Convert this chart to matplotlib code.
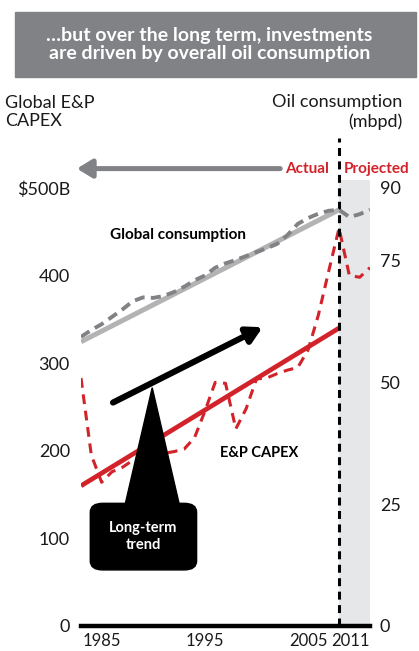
import matplotlib
matplotlib.use("Agg")
import matplotlib.pyplot as plt
from matplotlib.patches import Rectangle, FancyBboxPatch, Polygon

plt.rcParams['font.family'] = ['Lato', 'DejaVu Sans']

# ---- data ----
years = list(range(1983, 2012))
oil_consumption = [59.4, 60.8, 62.0, 63.5, 65.0, 66.7, 67.5, 67.4, 67.8, 68.6,
                   69.7, 71.0, 72.0, 73.6, 74.5, 75.2, 76.0, 76.8, 77.6, 78.5,
                   80.3, 82.6, 83.8, 84.7, 85.3, 85.5, 84.0, 84.6, 85.5]
capex = [283, 195, 164, 176, 181, 189, 193, 196, 197, 199,
         202, 215, 245, 278, 277, 225, 248, 282, 283, 288,
         292, 295, 315, 355, 405, 454, 400, 398, 409]
trend_years = [1983, 2008]
oil_trend = [58.4, 85.5]
capex_trend = [160, 340]
last_actual = 2008

left_ticks = [0, 100, 200, 300, 400, 500]
left_labels = ['0', '100', '200', '300', '400', '$500B']
right_ticks = [0, 25, 50, 75, 90]
x_ticks = [1985, 1995, 2005, 2011]

RED = '#d2232a'
GRAY_DASH = '#808285'
GRAY_SOLID = '#b3b3b3'
SHADE = '#e6e7e8'

fig = plt.figure(figsize=(4.19, 6.51), dpi=100)
ax = fig.add_axes([81 / 419, 25 / 651, 289 / 419, 446 / 651])
ax2 = ax.twinx()

ymax = 509
ax.set_xlim(1983, 2011)
ax.set_ylim(0, ymax)
ax2.set_ylim(0, ymax * 90 / 500)

ax.axvspan(last_actual, 2011, color=SHADE, zorder=0, lw=0)

# CAPEX (left axis)
ax.plot(trend_years, capex_trend, color=RED, lw=3.4, solid_capstyle='butt', zorder=3)
ax.plot(years, capex, color=RED, lw=2.2, dashes=(3.2, 2.2), zorder=4)

# oil consumption (right axis)
ax2.plot(trend_years, oil_trend, color=GRAY_SOLID, lw=3.6, solid_capstyle='butt', zorder=2)
ax2.plot(years, oil_consumption, color=GRAY_DASH, lw=2.8, dashes=(2.6, 1.6), zorder=3)

# actual / projected split
ax.plot([last_actual, last_actual], [0, 557], color='black', lw=2.2,
        dashes=(2.6, 1.8), clip_on=False, zorder=5)
ax.text(last_actual - 0.95, 522, 'Actual', color=RED, fontsize=11, fontweight='bold',
        ha='right', va='center')
ax.text(last_actual + 0.5, 522, 'Projected', color=RED, fontsize=11, fontweight='bold',
        ha='left', va='center')
ax.annotate('', xy=(1982.6, 522), xytext=(2002.3, 522), annotation_clip=False,
            arrowprops=dict(arrowstyle='-|>,head_length=0.9,head_width=0.55',
                            color=GRAY_DASH, lw=3.6, shrinkA=0, shrinkB=0))

# series labels
ax.text(1985.8, 446, 'Global consumption', fontsize=11, fontweight='bold', va='center')
ax.text(1996.5, 197, 'E&P CAPEX', fontsize=10.5, fontweight='bold', va='center')

# long-term trend arrow and callout
ax.annotate('', xy=(2000.6, 341), xytext=(1986.1, 255),
            arrowprops=dict(arrowstyle='-|>,head_length=0.9,head_width=0.5',
                            color='black', lw=4.4, shrinkA=0, shrinkB=0), zorder=6)
ax.add_patch(Polygon([(1989.9, 272), (1987.3, 140), (1992.5, 140)],
                     closed=True, color='black', zorder=6))
ax.add_patch(FancyBboxPatch((1983.9, 64), 10.3, 76,
                            boxstyle='round,pad=0,rounding_size=1.2',
                            mutation_aspect=8.5, color='black', zorder=6))
ax.text(1989.05, 102, 'Long-term\ntrend', color='white', fontsize=10.5,
        fontweight='bold', ha='center', va='center', linespacing=1.25, zorder=7)

# axes styling
for a in (ax, ax2):
    for s in ('top', 'left', 'right', 'bottom'):
        a.spines[s].set_visible(False)
ax.axhline(0, color='black', lw=3.2, zorder=5, clip_on=False)

ax.set_yticks(left_ticks)
ax.set_yticklabels(left_labels)
ax2.set_yticks(right_ticks)
ax.set_xticks(x_ticks)
ax.set_xticklabels([str(y) for y in x_ticks])
ax.get_xticklabels()[-1].set_ha('right')
ax.tick_params(axis='y', length=0, pad=8, labelsize=13, colors='#1a1a1a')
ax2.tick_params(axis='y', length=0, pad=7, labelsize=13, colors='#1a1a1a')
ax.tick_params(axis='x', length=0, pad=5, labelsize=12, colors='#1a1a1a')

# header
fig.patches.append(Rectangle((15 / 419, 1 - 77 / 651), 401 / 419, 65 / 651,
                             transform=fig.transFigure, color=GRAY_DASH, zorder=0))
fig.text(0.5, 1 - 44.5 / 651,
         '\u2026but over the long term, investments\nare driven by overall oil consumption',
         color='white', fontsize=14, fontweight='bold', ha='center', va='center',
         linespacing=1.1)
fig.text(5 / 419, 1 - 112 / 651, 'Global E&P\nCAPEX', fontsize=13, ha='left',
         va='center', linespacing=1.2, color='#1a1a1a')
fig.text(402 / 419, 1 - 112 / 651, 'Oil consumption\n(mbpd)', fontsize=13, ha='right',
         va='center', linespacing=1.2, color='#1a1a1a', multialignment='right')

fig.savefig('out.png', dpi=100)
